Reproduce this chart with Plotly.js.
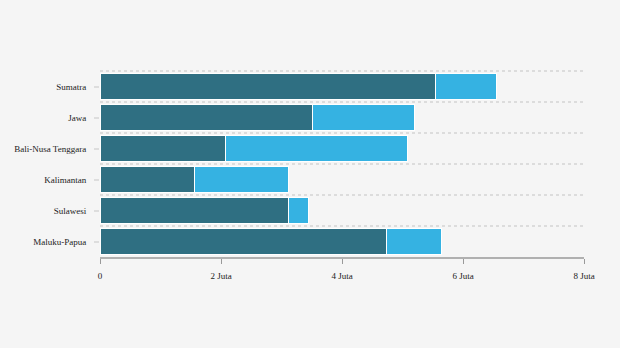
<!DOCTYPE html>
<html>
<head>
<meta charset="utf-8">
<script src="https://cdn.plot.ly/plotly-3.0.1.min.js"></script>
<style>html,body{margin:0;padding:0;background:#f5f5f5;}#chart{width:620px;height:348px;}</style>
</head>
<body>
<div id="chart"></div>
<script>
const regions = ["Sumatra", "Jawa", "Bali-Nusa Tenggara", "Kalimantan", "Sulawesi", "Maluku-Papua"];
const seriesA = [5540000, 3520000, 2080000, 1570000, 3120000, 4740000];
const seriesB = [1010000, 1670000, 3010000, 1550000, 330000, 910000];
const tickValues = [0, 2000000, 4000000, 6000000, 8000000];
const tickLabels = ["0", "2 Juta", "4 Juta", "6 Juta", "8 Juta"];

const traces = [
  {type: "bar", orientation: "h", y: regions, x: seriesA, name: "A",
   marker: {color: "#2f6f82", line: {color: "#ffffff", width: 1}}, hoverinfo: "x+y"},
  {type: "bar", orientation: "h", y: regions, x: seriesB, name: "B",
   marker: {color: "#35b2e2", line: {color: "#ffffff", width: 1}}, hoverinfo: "x+y"},
  {type: "scatter", mode: "none", y: regions, x: regions.map(() => null), yaxis: "y2",
   showlegend: false, hoverinfo: "skip"}
];

const layout = {
  width: 620, height: 348,
  paper_bgcolor: "#f5f5f5", plot_bgcolor: "#f5f5f5",
  margin: {l: 100, r: 36, t: 71, b: 91},
  barmode: "stack", bargap: 0.17,
  showlegend: false,
  font: {family: "Liberation Serif, Times New Roman, serif", size: 9, color: "#222"},
  xaxis: {range: [0, 8000000], tickvals: tickValues, ticktext: tickLabels,
    showgrid: false, zeroline: false, showline: true, linecolor: "#b0b0b0", linewidth: 2,
    ticks: "outside", ticklen: 5, tickcolor: "#999", tickwidth: 1, ticklabelstandoff: 4, fixedrange: true},
  yaxis: {type: "category", categoryarray: regions, categoryorder: "array", range: [5.5, -0.5],
    showgrid: false, zeroline: false, showline: false, ticklabelstandoff: 6,
    ticks: "outside", ticklen: 5, tickcolor: "#dddddd", tickwidth: 2, fixedrange: true},
  yaxis2: {type: "category", overlaying: "y", categoryarray: regions, categoryorder: "array",
    range: [5.5, -0.5], tickson: "boundaries", showgrid: true, gridcolor: "#dcdcdc", gridwidth: 2,
    griddash: "dot", showticklabels: false, ticks: "", zeroline: false, showline: false, fixedrange: true},
  shapes: [{type: "line", xref: "paper", yref: "paper", x0: 0, x1: 1, y0: 1, y1: 1,
    line: {color: "#dcdcdc", width: 2, dash: "dot"}, layer: "below"}]
};

Plotly.newPlot("chart", traces, layout, {displayModeBar: false, staticPlot: true});
</script>
</body>
</html>
